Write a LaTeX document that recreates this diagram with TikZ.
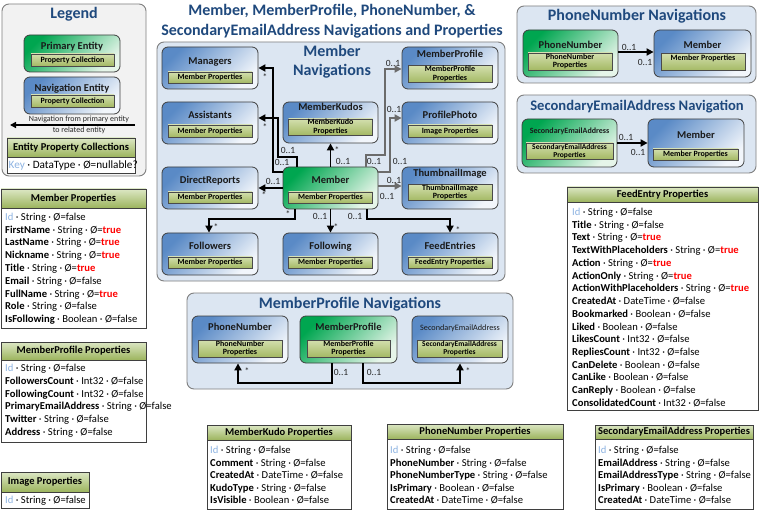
\documentclass[tikz,border=0pt]{standalone}
\usepackage{fontspec}
\setmainfont{Carlito}
\usetikzlibrary{arrows.meta,shadings}
\definecolor{panelfill}{HTML}{DCE6F2}
\definecolor{panelborder}{HTML}{7F7F7F}
\definecolor{legendfill}{HTML}{F2F2F2}
\definecolor{entborder}{HTML}{3F3F3F}
\definecolor{navtop}{HTML}{5A8AC6}
\definecolor{navbot}{HTML}{F2F6FB}
\definecolor{primtop}{HTML}{00A650}
\definecolor{primbot}{HTML}{E6F5E9}
\definecolor{bartop}{HTML}{D3DFAE}
\definecolor{barbot}{HTML}{A4B964}
\definecolor{barborder}{HTML}{4A4A4A}
\definecolor{titledark}{HTML}{1A1A1A}
\definecolor{titleblue}{HTML}{1F497D}
\definecolor{thtop}{HTML}{DCE7C4}
\definecolor{thbot}{HTML}{9CB45D}
\definecolor{tborder}{HTML}{3F3F3F}
\definecolor{arrowgray}{HTML}{6B6B6B}
\definecolor{multtext}{HTML}{262626}
\definecolor{keyblue}{HTML}{8DB3E2}
\definecolor{tred}{HTML}{FF0000}
\newcommand{\ytrue}{{\color{tred}\bfseries true}}
\newcommand{\idkey}{{\color{keyblue}Id}}
\tikzset{
 panel/.style={draw=panelborder, line width=0.9pt, rounded corners=7pt, fill=panelfill, inner sep=0},
 lpanel/.style={panel, fill=legendfill},
 navent/.style={draw=entborder, line width=0.8pt, rounded corners=6pt, top color=navtop, bottom color=navbot, shading angle=45, inner sep=0},
 priment/.style={navent, top color=primtop, bottom color=primbot, shading angle=45},
 bar/.style={draw=barborder, line width=0.6pt, top color=bartop, bottom color=barbot, inner sep=0, font=\fontsize{8}{8.4}\selectfont\bfseries, align=center, text=black},
 sbar/.style={bar, font=\fontsize{7.5}{8}\selectfont\bfseries},
 bartext/.style={inner sep=0, font=\fontsize{8}{8.4}\selectfont\bfseries, text=black},
 etitle/.style={inner sep=0, font=\fontsize{10.5}{12}\selectfont\bfseries, text=titledark, text height=7.5pt, text depth=2.5pt},
 stitle/.style={inner sep=0, font=\fontsize{8}{10}\selectfont\bfseries, text=titledark},
 ptitle/.style={inner sep=0, font=\fontsize{16}{19}\selectfont\bfseries, text=titleblue, text height=11pt, text depth=3.5pt},
 thead/.style={draw=tborder, line width=0.8pt, top color=thtop, bottom color=thbot, inner sep=0, font=\fontsize{10.5}{12}\selectfont\bfseries},
 tbody/.style={draw=tborder, line width=0.8pt, fill=white, inner sep=0},
 prow/.style={anchor=base west, inner sep=0, font=\fontsize{10.6}{12}\selectfont, text=black},
 conn/.style={line width=1.8pt, draw=black, -{Triangle[length=7pt,width=7pt]}},
 gconn/.style={conn, draw=arrowgray},
 mult/.style={inner sep=0, font=\fontsize{9.5}{11}\selectfont, text=multtext},
 star/.style={inner sep=0, font=\fontsize{9.5}{10}\selectfont, text=multtext},
 small/.style={inner sep=0, font=\fontsize{8}{9}\selectfont, text=multtext},
}
\begin{document}
\begin{tikzpicture}[x=1pt,y=-1pt]
\useasboundingbox (0,0) rectangle (759,510);
\fill[white] (0,0) rectangle (759,510);

% ================= Legend =================
\node[lpanel, minimum width=144, minimum height=172] (legend) at (74,90) {};
\node[ptitle] (legendt) at (74,15) {Legend};
\node[priment, minimum width=96, minimum height=37] (lgprim) at (72,53.5) {};
\node[etitle] (lgprimt) at (72,47) {Primary Entity};
\node[bar, minimum width=83, minimum height=12] (lgprimb) at (72.5,60) {Property Collection};
\node[navent, minimum width=96, minimum height=37] (lgnav) at (72,95.5) {};
\node[etitle] (lgnavt) at (72,89) {Navigation Entity};
\node[bar, minimum width=83, minimum height=12] (lgnavb) at (72.5,101) {Property Collection};
\coordinate (lga) at (135,125);
\coordinate (lgb) at (10,125);
\draw[line width=1.5pt, -{Triangle[length=6pt,width=6pt]}] (lga) -- (lgb);
\node[small] (lgtxt1) at (79,119) {Navigation from primary entity};
\node[small] (lgtxt2) at (79,130.5) {to related entity};
\node[thead, minimum width=128, minimum height=19] (lgepc) at (71,147.5) {Entity Property Collections};
\node[tbody, minimum width=128, minimum height=16] (lgkey) at (71,165) {};
\node[prow, font=\fontsize{11.2}{12}\selectfont] (lgkeyt) at (8.5,169) {{\color{keyblue}Key} · DataType · Ø=nullable?};

% ================= Title =================
\node[ptitle] (title1) at (332,12) {Member, MemberProfile, PhoneNumber, \&};
\node[ptitle] (title2) at (332,32) {SecondaryEmailAddress Navigations and Properties};

% ================= Member Navigations =================
\node[panel, minimum width=348, minimum height=239] (mnav) at (331,161.5) {};
\node[ptitle] (mnavt1) at (332,53) {Member};
\node[ptitle] (mnavt2) at (332,72) {Navigations};

\node[navent, minimum width=96, minimum height=42] (managers) at (210,68) {};
\node[etitle] (managerst) at (210,62) {Managers};
\node[bar, minimum width=84, minimum height=11] (managersb) at (210,77.5) {Member Properties};

\node[navent, minimum width=96, minimum height=42] (assistants) at (210,123) {};
\node[etitle] (assistantst) at (210,116) {Assistants};
\node[bar, minimum width=84, minimum height=12] (assistantsb) at (210,131) {Member Properties};

\node[navent, minimum width=95, minimum height=41] (kudos) at (330.5,122.5) {};
\node[etitle] (kudost) at (330.5,108.5) {MemberKudos};
\node[bar, minimum width=84, minimum height=16] (kudosb) at (330.5,127) {MemberKudo\\Properties};

\node[navent, minimum width=96, minimum height=42] (mprofile) at (450,68) {};
\node[etitle] (mprofilet) at (450,55) {MemberProfile};
\node[bar, minimum width=84, minimum height=17] (mprofileb) at (450,74) {MemberProfile\\Properties};

\node[navent, minimum width=96, minimum height=42] (photo) at (450,123) {};
\node[etitle] (photot) at (450,116) {ProfilePhoto};
\node[bar, minimum width=84, minimum height=12] (photob) at (450,131) {Image Properties};

\node[navent, minimum width=96, minimum height=42] (direct) at (210,188) {};
\node[etitle] (directt) at (210,181.5) {DirectReports};
\node[bar, minimum width=84, minimum height=11] (directb) at (210,197.5) {Member Properties};

\node[priment, minimum width=95, minimum height=42] (member) at (330.5,188) {};
\node[etitle] (membert) at (330.5,181.5) {Member};
\node[bar, minimum width=84, minimum height=11] (memberb) at (330.5,197.5) {Member Properties};

\node[navent, minimum width=96, minimum height=42] (thumb) at (450,188) {};
\node[etitle] (thumbt) at (450,174.5) {ThumbnailImage};
\node[bar, minimum width=84, minimum height=16] (thumbb) at (450,192.5) {ThumbnailImage\\Properties};

\node[navent, minimum width=96, minimum height=42] (followers) at (210,254) {};
\node[etitle] (followerst) at (210,247.5) {Followers};
\node[bar, minimum width=84, minimum height=11] (followersb) at (210,262.5) {Member Properties};

\node[navent, minimum width=95, minimum height=42] (following) at (330.5,254) {};
\node[etitle] (followingt) at (330.5,247.5) {Following};
\node[bar, minimum width=84, minimum height=11] (followingb) at (330.5,262.5) {Member Properties};

\node[navent, minimum width=96, minimum height=42] (feed) at (450,254) {};
\node[etitle] (feedt) at (450,247.5) {FeedEntries};
\node[bar, minimum width=84, minimum height=11] (feedb) at (450,262.5) {FeedEntry Properties};

% connectors
\draw[conn] (member.west |- 0,172) -| (273,68) -- (managers.east |- 0,68);
\draw[conn] (member.north -| 297,0) |- (278,157) |- (assistants.east |- 0,118);
\draw[conn] (member.north) -- (kudos.south);
\draw[gconn] (member.north -| 366,0) |- (385,155) |- (mprofile.west |- 0,69);
\draw[gconn] (member.east |- 0,172) -| (390,118) -- (photo.west |- 0,118);
\draw[gconn] (member.east |- 0,186) -- (thumb.west |- 0,186);
\draw[conn] (member.west |- 0,188) -- (direct.east |- 0,188);
\draw[conn] (member.south -| 295,0) |- (209,219) -- (followers.north -| 209,0);
\draw[conn] (member.south) -- (following.north);
\draw[conn] (member.south -| 367,0) |- (450,219) -- (feed.north -| 450,0);

% multiplicities
\node[star] (m1) at (265,77.5) {*};
\node[star] (m2) at (265,127.5) {*};
\node[mult] (m3) at (288,150) {0..1};
\node[mult] (m4) at (282,162) {0..1};
\node[star] (m5) at (337,150.5) {*};
\node[mult] (m6) at (343,161) {0..1};
\node[mult] (m7) at (393,63) {0..1};
\node[mult] (m8) at (374,161) {0..1};
\node[mult] (m9) at (394,109) {0..1};
\node[mult] (m10) at (400,161) {0..1};
\node[mult] (m11) at (394,180) {0..1};
\node[mult] (m12) at (387,196) {0..1};
\node[mult] (m13) at (273,181) {0..1};
\node[star] (m14) at (264,195.5) {*};
\node[star] (m15) at (288,214) {*};
\node[star] (m16) at (216,227.5) {*};
\node[mult] (m17) at (320,216) {0..1};
\node[star] (m18) at (336,227.5) {*};
\node[mult] (m19) at (355,216) {0..1};
\node[star] (m20) at (458,230) {*};

% ================= PhoneNumber Navigations =================
\node[panel, minimum width=239, minimum height=77] (pnav) at (636.5,44.5) {};
\node[ptitle] (pnavt) at (637,17) {PhoneNumber Navigations};
\node[priment, minimum width=95, minimum height=47] (pnp) at (570.5,53.5) {};
\node[etitle] (pnpt) at (570.5,46) {PhoneNumber};
\node[bar, minimum width=84, minimum height=17] (pnpb) at (570,61.5) {PhoneNumber\\Properties};
\node[navent, minimum width=97, minimum height=47] (pnm) at (702.5,53.5) {};
\node[etitle] (pnmt) at (702.5,46) {Member};
\node[bar, minimum width=84, minimum height=17] (pnmb) at (703,62) {};
\node[bartext] (pnmbt) at (703,58) {Member Properties};
\draw[conn] (pnp.east |- 0,52) -- (pnm.west |- 0,52);
\node[mult] (pm1) at (629,47) {0..1};
\node[mult] (pm2) at (645,62) {0..1};

% ================= SecondaryEmailAddress Navigation =================
\node[panel, minimum width=239, minimum height=78] (snav) at (636.5,134) {};
\node[ptitle, font=\fontsize{14.6}{17}\selectfont\bfseries] (snavt) at (637,107) {SecondaryEmailAddress Navigation};
\node[priment, minimum width=95, minimum height=48] (ssea) at (569.5,143) {};
\node[stitle] (sseat) at (569.5,131) {SecondaryEmailAddress};
\node[sbar, minimum width=87, minimum height=16] (sseab) at (569.5,151) {SecondaryEmailAddress\\Properties};
\node[navent, minimum width=96, minimum height=48] (smem) at (696,143) {};
\node[etitle] (smemt) at (696,136.5) {Member};
\node[bar, minimum width=85, minimum height=11] (smemb) at (695.5,154.5) {Member Properties};
\draw[conn] (ssea.east |- 0,143) -- (smem.west |- 0,143);
\node[mult] (sm1) at (626,137) {0..1};
\node[mult] (sm2) at (638,152) {0..1};

% ================= MemberProfile Navigations =================
\node[panel, minimum width=326, minimum height=96] (mpnav) at (350,341) {};
\node[ptitle] (mpnavt) at (350,305) {MemberProfile Navigations};
\node[navent, minimum width=96, minimum height=47] (mpp) at (240,339.5) {};
\node[etitle] (mppt) at (240,327.5) {PhoneNumber};
\node[bar, minimum width=84, minimum height=17] (mppb) at (240,348.5) {PhoneNumber\\Properties};
\node[priment, minimum width=97, minimum height=47] (mpm) at (348.5,339.5) {};
\node[etitle] (mpmt) at (348.5,327.5) {MemberProfile};
\node[bar, minimum width=83, minimum height=17] (mpmb) at (348.5,348.5) {MemberProfile\\Properties};
\node[navent, minimum width=96, minimum height=47] (mps) at (460,339.5) {};
\node[stitle, font=\fontsize{8.2}{10}\selectfont] (mpst) at (460,328) {SecondaryEmailAddress};
\node[sbar, minimum width=85, minimum height=17] (mpsb) at (459.5,348.5) {SecondaryEmailAddress\\Properties};
\draw[conn] (mpm.south -| 332,0) |- (238,383) -- (mpp.south -| 238,0);
\draw[conn] (mpm.south -| 363,0) |- (460,383) -- (mps.south -| 460,0);
\node[star] (mpm1) at (247,371.5) {*};
\node[mult] (mpm2) at (341,372) {0..1};
\node[mult] (mpm3) at (374,372) {0..1};
\node[star] (mpm4) at (468,371.5) {*};

% ================= Member Properties =================
\node[tbody, minimum width=145, minimum height=120] (mpb) at (73.5,268) {};
\node[thead, minimum width=145, minimum height=19] (mph) at (73.5,198.5) {Member Properties};
\foreach \t [count=\i from 0] in {
 {\idkey{} · String · Ø=false},
 {\textbf{FirstName} · String · Ø=\ytrue},
 {\textbf{LastName} · String · Ø=\ytrue},
 {\textbf{Nickname} · String · Ø=\ytrue},
 {\textbf{Title} · String · Ø=\ytrue},
 {\textbf{Email} · String · Ø=false},
 {\textbf{FullName} · String · Ø=\ytrue},
 {\textbf{Role} · String · Ø=false},
 {\textbf{IsFollowing} · Boolean · Ø=false}}
 \node[prow] (mpr\i) at (5,{220.5+\i*12.75}) {\t};

% ================= MemberProfile Properties =================
\node[tbody, minimum width=145, minimum height=82] (mppr) at (73.5,401) {};
\node[thead, minimum width=145, minimum height=18] (mpprh) at (73.5,351) {MemberProfile Properties};
\foreach \t [count=\i from 0] in {
 {\idkey{} · String · Ø=false},
 {\textbf{FollowersCount} · Int32 · Ø=false},
 {\textbf{FollowingCount} · Int32 · Ø=false},
 {\textbf{PrimaryEmailAddress} · String · Ø=false},
 {\textbf{Twitter} · String · Ø=false},
 {\textbf{Address} · String · Ø=false}}
 \node[prow] (mppr\i) at (5,{371.5+\i*12.8}) {\t};

% ================= Image Properties =================
\node[tbody, minimum width=88, minimum height=16] (imgb) at (45,500) {};
\node[thead, minimum width=88, minimum height=20] (imgh) at (45,482) {Image Properties};
\node[prow] (imgr0) at (5,503.5) {\idkey{} · String · Ø=false};

% ================= FeedEntry Properties =================
\node[tbody, minimum width=191, minimum height=208] (feb) at (662.5,306) {};
\node[thead, minimum width=191, minimum height=15] (feh) at (662.5,194.5) {FeedEntry Properties};
\foreach \t [count=\i from 0] in {
 {\idkey{} · String · Ø=false},
 {\textbf{Title} · String · Ø=false},
 {\textbf{Text} · String · Ø=\ytrue},
 {\textbf{TextWithPlaceholders} · String · Ø=\ytrue},
 {\textbf{Action} · String · Ø=\ytrue},
 {\textbf{ActionOnly} · String · Ø=\ytrue},
 {\textbf{ActionWithPlaceholders} · String · Ø=\ytrue},
 {\textbf{CreatedAt} · DateTime · Ø=false},
 {\textbf{Bookmarked} · Boolean · Ø=false},
 {\textbf{Liked} · Boolean · Ø=false},
 {\textbf{LikesCount} · Int32 · Ø=false},
 {\textbf{RepliesCount} · Int32 · Ø=false},
 {\textbf{CanDelete} · Boolean · Ø=false},
 {\textbf{CanLike} · Boolean · Ø=false},
 {\textbf{CanReply} · Boolean · Ø=false},
 {\textbf{ConsolidatedCount} · Int32 · Ø=false}}
 \node[prow] (fer\i) at (572,{215.5+\i*12.73}) {\t};

% ================= MemberKudo Properties =================
\node[tbody, minimum width=144, minimum height=69] (mkb) at (279,474.5) {};
\node[thead, minimum width=144, minimum height=15] (mkh) at (279,432.5) {MemberKudo Properties};
\foreach \t [count=\i from 0] in {
 {\idkey{} · String · Ø=false},
 {\textbf{Comment} · String · Ø=false},
 {\textbf{CreatedAt} · DateTime · Ø=false},
 {\textbf{KudoType} · String · Ø=false},
 {\textbf{IsVisible} · Boolean · Ø=false}}
 \node[prow] (mkr\i) at (210,{453.5+\i*12.5}) {\t};

% ================= PhoneNumber Properties =================
\node[tbody, minimum width=176, minimum height=70] (pnb) at (475,474) {};
\node[thead, minimum width=176, minimum height=15] (pnh) at (475,431.5) {PhoneNumber Properties};
\foreach \t [count=\i from 0] in {
 {\idkey{} · String · Ø=false},
 {\textbf{PhoneNumber} · String · Ø=false},
 {\textbf{PhoneNumberType} · String · Ø=false},
 {\textbf{IsPrimary} · Boolean · Ø=false},
 {\textbf{CreatedAt} · DateTime · Ø=false}}
 \node[prow] (pnr\i) at (390,{453.5+\i*12.5}) {\t};

% ================= SecondaryEmailAddress Properties =================
\node[tbody, minimum width=158, minimum height=70] (seb) at (674,474) {};
\node[thead, minimum width=158, minimum height=14] (seh) at (674,432) {SecondaryEmailAddress Properties};
\foreach \t [count=\i from 0] in {
 {\idkey{} · String · Ø=false},
 {\textbf{EmailAddress} · String · Ø=false},
 {\textbf{EmailAddressType} · String · Ø=false},
 {\textbf{IsPrimary} · Boolean · Ø=false},
 {\textbf{CreatedAt} · DateTime · Ø=false}}
 \node[prow] (ser\i) at (598,{453.5+\i*12.5}) {\t};
\end{tikzpicture}
\end{document}
